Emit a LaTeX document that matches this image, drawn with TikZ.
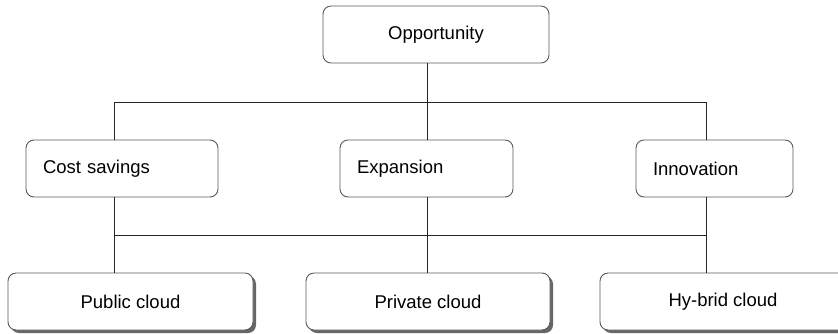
\documentclass[tikz,border=0pt]{standalone}
\usepackage{fontspec}
\setmainfont{Liberation Sans}
\usetikzlibrary{shadows}
\begin{document}
\begin{tikzpicture}[x=1pt,y=-1pt,
  box/.style={draw=black!65, line width=0.9pt, rounded corners=8pt, fill=white,
    inner ysep=0pt, minimum height=57pt, font=\fontsize{18.5}{20}\selectfont},
  midbox/.style={box, inner xsep=17pt, align=left},
  leaf/.style={box, inner xsep=0pt,
    drop shadow={shadow xshift=3pt, shadow yshift=-3pt, fill=black!60, opacity=1}},
  link/.style={draw=black!85, line width=0.9pt}]
\useasboundingbox (0,0) rectangle (838,333);

% root
\node[box, minimum width=226pt] (opp) at (436,34.5) {Opportunity};

% second level
\node[midbox, text width=158pt] (cost)  at (122,168.5)   {Cost savings};
\node[midbox, text width=139pt] (exp)   at (426.5,168.5) {Expansion};
\node[midbox, text width=123pt] (innov) at (714.5,168.5) {Innovation};

% third level
\node[leaf, minimum width=245pt] (pub)  at (130.5,301.5) {Public cloud};
\node[leaf, minimum width=244pt] (priv) at (428,301.5)   {Private cloud};
\node[leaf, minimum width=246pt] (hyb)  at (723,301.5)   {Hy-brid cloud};

% upper bus
\draw[link] ([xshift=-8.5pt]opp.south) -- ++(0,39) coordinate (hub);
\draw[link] ([xshift=-8pt]cost.north) |- (hub) -| ([xshift=-8.5pt]innov.north);
\draw[link] (hub) -- (hub |- exp.north);

% lower bus
\draw[link] ([xshift=-8pt]cost.south) -- ([xshift=-16.5pt]pub.north);
\draw[link] ([xshift=1pt]exp.south) -- ([xshift=-0.5pt]priv.north);
\draw[link] ([xshift=-8.5pt]innov.south) -- ([xshift=-17pt]hyb.north);
\path ([xshift=-8pt]cost.south) ++(0,38) coordinate (l1);
\path ([xshift=-8.5pt]innov.south) ++(0,38) coordinate (l3);
\draw[link] (l1) -- (l3);
\end{tikzpicture}
\end{document}
